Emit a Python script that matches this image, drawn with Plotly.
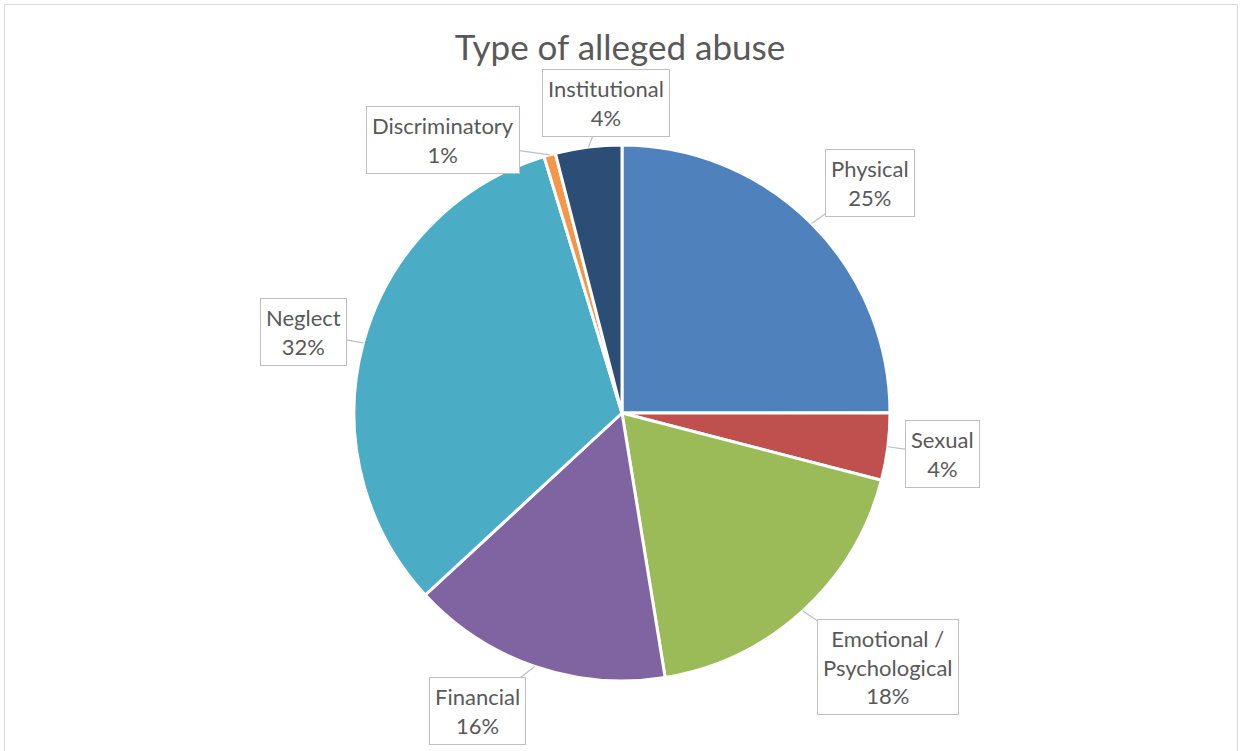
import math
import plotly.graph_objects as go

# Share of alleged abuse cases by type (percent)
categories = ["Physical", "Sexual", "Emotional /<br>Psychological", "Financial",
              "Neglect", "Discriminatory", "Institutional"]
shares = [25.0, 4.05, 18.4, 15.7, 32.2, 0.7, 4.0]
colors = ["#4F81BD", "#C0504D", "#9BBB59", "#8064A2", "#4BACC6", "#F79646", "#2C4D75"]

# Callout box centres, in page pixels (x right, y down)
label_pos = [(870, 183), (942, 454), (888, 667), (477, 711),
             (303, 332), (443, 140), (606, 103)]

W, H = 1240, 751
PIE_X = (354 / W, 890 / W)
PIE_Y = (1 - 681 / H, 1 - 145 / H)
FONT = "Lato, Carlito, sans-serif"

fig = go.Figure()

fig.add_trace(go.Pie(
    labels=[c.replace("<br>", " ") for c in categories],
    values=shares,
    sort=False,
    direction="clockwise",
    rotation=0,
    marker=dict(colors=colors, line=dict(color="white", width=3)),
    textinfo="none",
    hoverinfo="label+percent",
    showlegend=False,
    domain=dict(x=list(PIE_X), y=list(PIE_Y)),
))

# Empty trace so the pixel-based helper axes exist for callouts
fig.add_trace(go.Scatter(x=[], y=[], showlegend=False, hoverinfo="skip"))

# Pie geometry in page pixels
cx = (PIE_X[0] + PIE_X[1]) / 2 * W
cy = (1 - (PIE_Y[0] + PIE_Y[1]) / 2) * H
r = min((PIE_X[1] - PIE_X[0]) * W, (PIE_Y[1] - PIE_Y[0]) * H) / 2

total = sum(shares)
cum = 0.0
annotations = []
for name, v, (bx, by) in zip(categories, shares, label_pos):
    mid = (cum + v / 2) / total
    cum += v
    theta = 2 * math.pi * mid
    tx = cx + r * math.sin(theta)
    ty = cy - r * math.cos(theta)
    pct = round(100 * v / total)
    annotations.append(dict(
        x=tx, y=ty, xref="x", yref="y",
        ax=bx, ay=by, axref="x", ayref="y",
        text=f"{name}<br>{pct}%",
        showarrow=True, arrowhead=0, arrowwidth=1.2, arrowcolor="#BFBFBF",
        standoff=0,
        font=dict(family=FONT, size=22, color="#595959"),
        bgcolor="white", bordercolor="#BFBFBF", borderwidth=1, borderpad=5,
        align="center",
    ))

fig.update_layout(
    width=W, height=H,
    margin=dict(l=0, r=0, t=0, b=0),
    paper_bgcolor="white", plot_bgcolor="rgba(0,0,0,0)",
    title=dict(text="Type of alleged abuse", x=0.5, xanchor="center",
               y=1 - 48 / H, yanchor="middle",
               font=dict(family=FONT, size=35, color="#595959")),
    xaxis=dict(range=[0, W], visible=False, domain=[0, 1], fixedrange=True),
    yaxis=dict(range=[H, 0], visible=False, domain=[0, 1], fixedrange=True),
    annotations=annotations,
    shapes=[dict(type="rect", xref="x", yref="y", x0=4.5, x1=1237.5, y0=4.5, y1=H + 20,
                 line=dict(color="#D9D9D9", width=1), layer="below")],
)

fig.write_html("out.html")
